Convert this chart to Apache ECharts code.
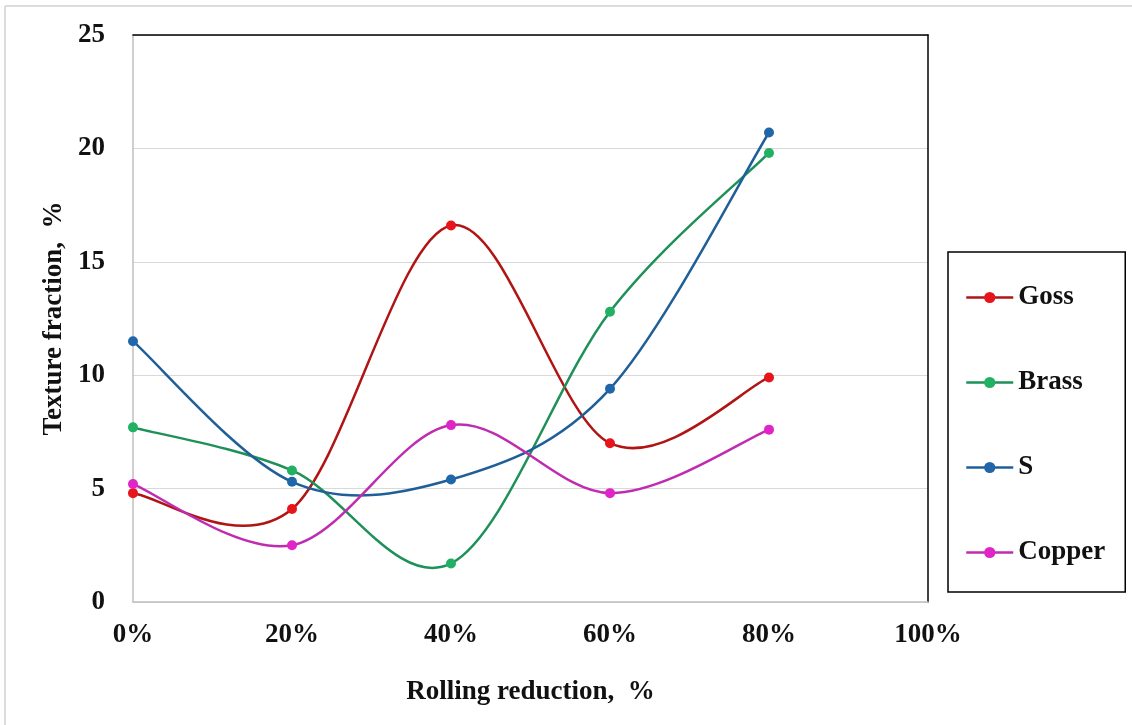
<!DOCTYPE html>
<html>
<head>
<meta charset="utf-8">
<script src="https://cdn.jsdelivr.net/npm/echarts@6/dist/echarts.min.js"></script>
<style>
  html, body { margin: 0; padding: 0; background: #fff; }
  #main { width: 1132px; height: 725px; }
</style>
</head>
<body>
<div id="main"></div>
<script>
// 轧制压下量 (%)
var reduction = [0, 20, 40, 60, 80];
// 各织构组分体积分数 (%)
var goss = [4.8, 4.1, 16.6, 7.0, 9.9];
var brass = [7.7, 5.8, 1.7, 12.8, 19.8];
var sTex = [11.5, 5.3, 5.4, 9.4, 20.7];
var copper = [5.2, 2.5, 7.8, 4.8, 7.6];
var yTicks = [0, 5, 10, 15, 20, 25];
var xTicks = [0, 20, 40, 60, 80, 100];

var FONT = 'Liberation Serif';
var TXT = { fontFamily: FONT, fontWeight: 'bold', fontSize: 27, color: '#111' };

function pairs(vals) {
  return reduction.map(function (x, i) { return [x, vals[i]]; });
}

// Excel式平滑曲线(Catmull-Rom),每段用贝塞尔画,坐标由坐标轴换算
function curve(name, vals, color) {
  return {
    name: name,
    type: 'custom',
    data: pairs(vals),
    z: 2,
    silent: true,
    renderItem: function (params, api) {
      var i = params.dataIndex;
      if (i >= reduction.length - 1) return null;
      var p = [];
      for (var k = i - 1; k <= i + 2; k++) {
        var j = Math.min(Math.max(k, 0), reduction.length - 1);
        p.push(api.coord([reduction[j], vals[j]]));
      }
      var t = 1 / 6;
      var c1 = [p[1][0] + (p[2][0] - p[0][0]) * t, p[1][1] + (p[2][1] - p[0][1]) * t];
      var c2 = [p[2][0] - (p[3][0] - p[1][0]) * t, p[2][1] - (p[3][1] - p[1][1]) * t];
      return {
        type: 'bezierCurve',
        shape: { x1: p[1][0], y1: p[1][1], cpx1: c1[0], cpy1: c1[1], cpx2: c2[0], cpy2: c2[1], x2: p[2][0], y2: p[2][1] },
        style: { stroke: color, lineWidth: 2.5, fill: null }
      };
    }
  };
}

// 数据点
function dots(name, vals, lineColor, dotColor) {
  return {
    name: name,
    type: 'line',
    data: pairs(vals),
    z: 3,
    symbol: 'circle',
    symbolSize: 10,
    lineStyle: { color: lineColor, width: 2.5, opacity: 0 },
    itemStyle: { color: dotColor }
  };
}

var names = ['Goss', 'Brass', 'S', 'Copper'];
var lineColors = ['#b01414', '#1e9058', '#1f5f98', '#c02cb0'];
var dotColors = ['#e8141c', '#22b063', '#2266aa', '#e024c8'];
var allVals = [goss, brass, sTex, copper];

var series = [];
names.forEach(function (n, i) {
  series.push(dots(n, allVals[i], lineColors[i], dotColors[i]));
  series.push(curve(n, allVals[i], lineColors[i]));
});

var myChart = echarts.init(document.getElementById('main'));
myChart.setOption({
  backgroundColor: '#fff',
  animation: false,
  // 外边框(左、上)
  graphic: [
    { type: 'line', shape: { x1: 5, y1: 6, x2: 5, y2: 725 }, style: { stroke: '#d0d0d0', lineWidth: 1.5 } },
    { type: 'line', shape: { x1: 5, y1: 6, x2: 1132, y2: 6 }, style: { stroke: '#d0d0d0', lineWidth: 1.5 } }
  ],
  grid: { left: 133, right: 204, top: 35, bottom: 123, containLabel: false },
  legend: {
    orient: 'vertical',
    left: 948,
    top: 252,
    padding: [32, 20, 26, 17],
    itemGap: 58,
    itemWidth: 47,
    itemHeight: 14,
    borderColor: '#000',
    borderWidth: 1.5,
    textStyle: TXT,
    data: names.map(function (n, i) {
      return { name: n, lineStyle: { color: lineColors[i], width: 2.5, opacity: 1 } };
    })
  },
  xAxis: [{
    type: 'value',
    min: xTicks[0],
    max: xTicks[xTicks.length - 1],
    interval: 20,
    name: 'Rolling reduction,  %',
    nameLocation: 'middle',
    nameGap: 77,
    nameTextStyle: TXT,
    axisLine: { show: true, onZero: false, lineStyle: { color: '#bfbfbf', width: 1.5 } },
    axisTick: { show: false },
    splitLine: { show: false },
    axisLabel: Object.assign({ formatter: '{value}%', margin: 20 }, TXT)
  }, {
    type: 'value',
    position: 'top',
    min: 0, max: 100,
    axisLine: { show: true, onZero: false, lineStyle: { color: '#000', width: 1.5 } },
    axisTick: { show: false },
    axisLabel: { show: false },
    splitLine: { show: false }
  }],
  yAxis: [{
    type: 'value',
    min: yTicks[0],
    max: yTicks[yTicks.length - 1],
    interval: 5,
    name: 'Texture fraction,  %',
    nameLocation: 'middle',
    nameGap: 62,
    nameTextStyle: TXT,
    axisLine: { show: true, onZero: false, lineStyle: { color: '#bfbfbf', width: 1.5 } },
    axisTick: { show: false },
    splitLine: { show: true, lineStyle: { color: '#d9d9d9', width: 1 } },
    axisLabel: Object.assign({ margin: 28 }, TXT)
  }, {
    type: 'value',
    position: 'right',
    min: 0, max: 25,
    axisLine: { show: true, onZero: false, lineStyle: { color: '#000', width: 1.5 } },
    axisTick: { show: false },
    axisLabel: { show: false },
    splitLine: { show: false }
  }],
  series: series
});
</script>
</body>
</html>
